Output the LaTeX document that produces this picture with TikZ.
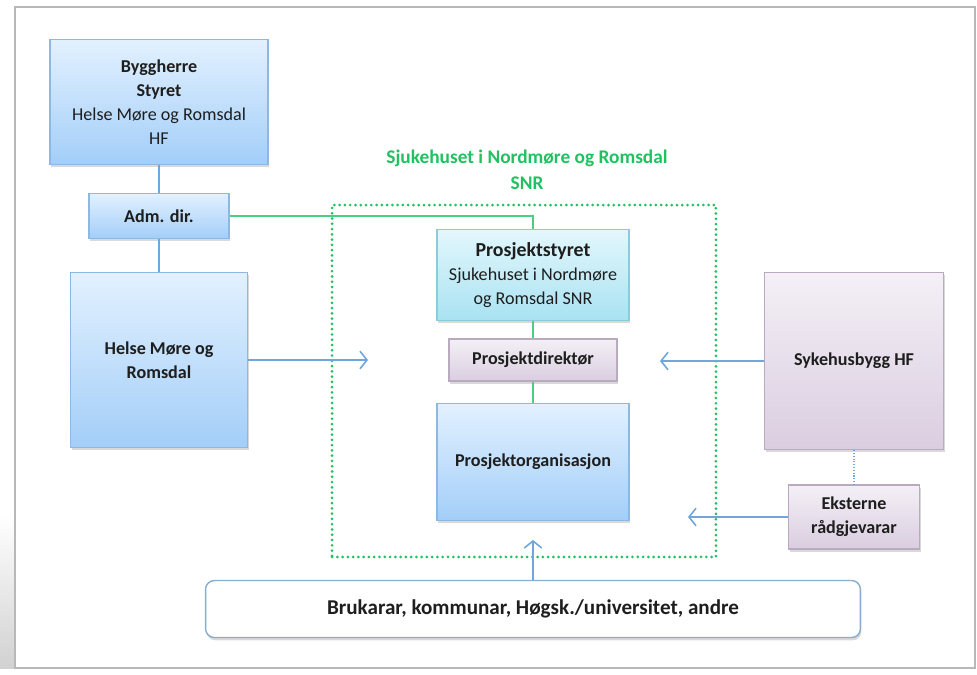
\documentclass[tikz,border=0pt]{standalone}
\usepackage{fontspec}
\setmainfont{Carlito}
\usetikzlibrary{arrows,arrows.meta,shapes,shadows,positioning}
\definecolor{txt}{HTML}{1E1E1E}
\definecolor{bluetop}{HTML}{E2F1FF}
\definecolor{bluebot}{HTML}{A3CEF8}
\definecolor{blueedge}{HTML}{8DB8E2}
\definecolor{cyantop}{HTML}{E3F7FC}
\definecolor{cyanbot}{HTML}{A9E2F2}
\definecolor{cyanedge}{HTML}{8CCBDC}
\definecolor{lilatop}{HTML}{F4F0F6}
\definecolor{lilabot}{HTML}{DACDE0}
\definecolor{lilaedge}{HTML}{B9AABF}
\definecolor{snrgreen}{HTML}{1FC160}
\definecolor{linkblue}{HTML}{6FA6DB}
\tikzstyle{box}=[draw,line width=0.8pt,align=center,text=txt,
  font=\fontsize{10.3}{13.6}\selectfont,
  drop shadow={shadow xshift=0.6pt,shadow yshift=-1.6pt,opacity=0.3}]
\tikzstyle{bluebox}=[box,draw=blueedge,top color=bluetop,bottom color=bluebot]
\tikzstyle{cyanbox}=[box,draw=cyanedge,top color=cyantop,bottom color=cyanbot]
\tikzstyle{lilabox}=[box,draw=lilaedge,top color=lilatop,bottom color=lilabot]
\tikzstyle{userbox}=[box,draw=blueedge!80!gray,fill=white,rounded corners=5pt,
  font=\fontsize{12}{14}\selectfont\bfseries]
\tikzstyle{link}=[draw,linkblue,line width=0.9pt]
\tikzstyle{greenlink}=[draw,snrgreen!80,line width=0.9pt]
\tikzstyle{arrowline}=[draw,linkblue,line width=0.9pt,-{Straight Barb[length=4pt,width=10pt]}]

\begin{document}
\begin{tikzpicture}[x=0.02cm,y=-0.02cm]
\useasboundingbox (0,0) rectangle (977,674);

% Page frame
\shade[top color=white,bottom color=black!18] (0,515) rectangle (15,668);
\draw[black!28,line width=0.8pt] (15,7) rectangle (975,668);

% First we draw the boxes
\node[bluebox,minimum width=4.36cm,minimum height=2.5cm] (bygg) at (159,102)
  {\textbf{Byggherre}\\\textbf{Styret}\\Helse Møre og Romsdal\\HF};
\node[bluebox,minimum width=2.8cm,minimum height=0.9cm] (adm) at (159,216) {\textbf{Adm. dir.}};
\node[bluebox,minimum width=3.54cm,minimum height=3.5cm] (helse) at (159,360)
  {\textbf{Helse Møre og}\\\textbf{Romsdal}};

\node[font=\fontsize{11}{14.6}\selectfont\bfseries,text=snrgreen,align=center] (snr) at (527,170)
  {Sjukehuset i Nordmøre og Romsdal\\SNR};
\node[draw=snrgreen,line width=1.7pt,dash pattern=on 0pt off 3pt,line cap=round,
  minimum width=7.68cm,minimum height=7.04cm] (snrbox) at (524,381) {};

\node[cyanbox,minimum width=3.84cm,minimum height=1.82cm] (styret) at (533,275)
  {{\fontsize{11.3}{14}\selectfont\textbf{Prosjektstyret}}\\Sjukehuset i Nordmøre\\og Romsdal SNR};
\node[lilabox,minimum width=3.36cm,minimum height=0.84cm] (dir) at (533,360) {\textbf{Prosjektdirektør}};
\node[bluebox,minimum width=3.84cm,minimum height=2.34cm] (org) at (533,462) {\textbf{Prosjektorganisasjon}};

\node[lilabox,minimum width=3.58cm,minimum height=3.54cm] (sykehus) at (854,361) {\textbf{Sykehusbygg HF}};
\node[lilabox,minimum width=2.62cm,minimum height=1.28cm] (ekst) at (854,517)
  {\textbf{Eksterne}\\\textbf{rådgjevarar}};

\node[userbox,minimum width=13.1cm,minimum height=1.14cm] (bruk) at (533,609)
  {Brukarar, kommunar, Høgsk./universitet, andre};

% Free ends of the arrows
\coordinate (inL) at (368,360);
\coordinate (inR) at (660,361);
\coordinate (inE) at (688,517);
\coordinate (inB) at (533,540);

% Connect the boxes
\foreach \source/\dest in {bygg/adm,adm/helse}
\path[link] (\source) -- (\dest);
\foreach \source/\dest in {styret/dir,dir/org}
\path[greenlink] (\source) -- (\dest);
\path[greenlink] (adm.east) -| (styret.north);
\path[draw,linkblue,densely dotted,line width=0.6pt] (sykehus) -- (ekst);

\foreach \source/\dest in {helse.east/inL,sykehus.west/inR,ekst.west/inE,bruk.north/inB}
\path[arrowline] (\source) -- (\dest);

\end{tikzpicture}
\end{document}
